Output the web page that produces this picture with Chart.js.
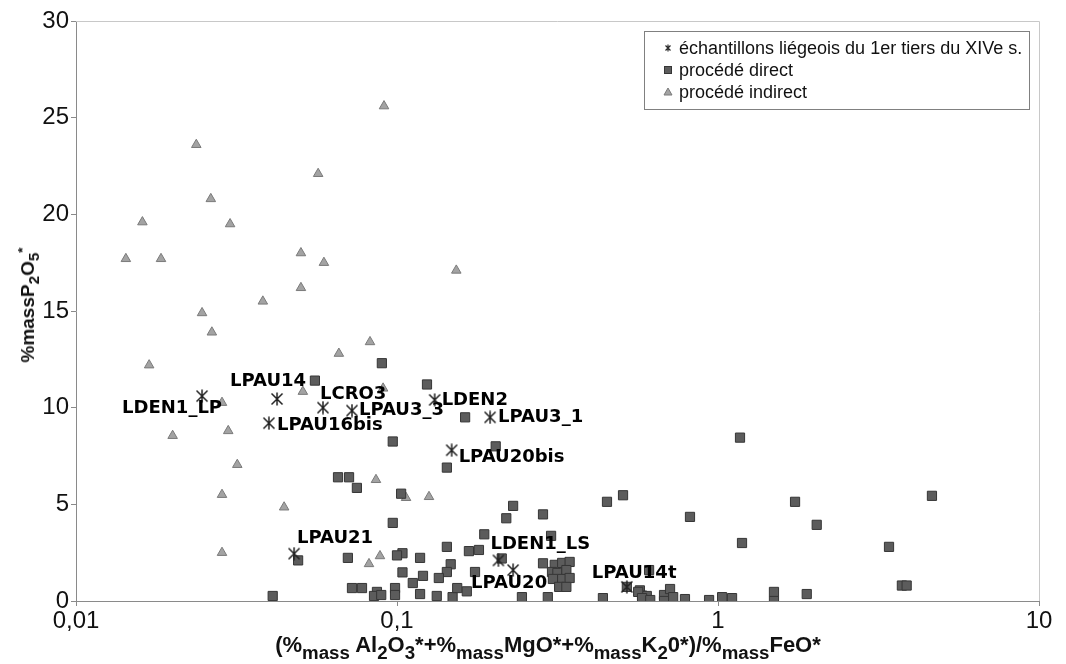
<!DOCTYPE html>
<html>
<head>
<meta charset="utf-8">
<script src="https://cdn.jsdelivr.net/npm/chart.js@4.4.1/dist/chart.umd.min.js"></script>
<style>
  body { margin: 0; background: #fff; }
  #wrap { position: relative; width: 1066px; height: 664px; }
  #chart { position: absolute; left: 0; top: 0; }
  .axTitle { position: absolute; font-family: "Liberation Sans", Arial, sans-serif; font-weight: bold; color: #111; white-space: nowrap; }
  .axTitle sub { font-size: 85%; vertical-align: -0.35em; line-height: 0; }
  .axTitle sup { font-size: 72%; vertical-align: 0.5em; line-height: 0; }
  #xTitle { left: 548px; top: 632px; font-size: 22px; transform: translateX(-50%); }
  #yTitle { left: 28px; top: 305px; font-size: 19px; transform: translate(-50%, -50%) rotate(-90deg); }
  #yTitle sub { font-size: 80%; }
</style>
</head>
<body>
<div id="wrap">
  <canvas id="chart" width="1066" height="664"></canvas>
  <div id="xTitle" class="axTitle">(%<sub>mass</sub> Al<sub>2</sub>O<sub>3</sub>*+%<sub>mass</sub>MgO*+%<sub>mass</sub>K<sub>2</sub>0*)/%<sub>mass</sub>FeO*</div>
  <div id="yTitle" class="axTitle">%massP<sub>2</sub>O<sub>5</sub><sup>*</sup></div>
</div>
<script>
// series names (legend)
const seriesNames = ["échantillons liégeois du 1er tiers du XIVe s.", "procédé direct", "procédé indirect"];

// échantillons liégeois (stars with labels)
const starNames = ["LDEN1_LP", "LPAU14", "LPAU16bis", "LCRO3", "LPAU3_3", "LDEN2", "LPAU3_1", "LPAU20bis", "LPAU21", "LDEN1_LS", "LPAU20", "LPAU14t"];
const starX = [0.0247, 0.0423, 0.0399, 0.0588, 0.0724, 0.131, 0.195, 0.148, 0.0478, 0.207, 0.23, 0.52];
const starY = [10.6, 10.45, 9.2, 10.0, 9.85, 10.4, 9.5, 7.8, 2.45, 2.1, 1.6, 0.73];

// procédé direct (squares)
const directX = [0.0897, 0.0555, 0.124, 0.163, 0.097, 0.203, 0.143, 0.0655, 0.0709, 0.075,
  0.103, 0.23, 0.219, 0.285, 0.451, 0.506, 0.097, 0.187, 0.302, 0.143,
  0.1675, 0.18, 0.104, 0.1, 0.118, 0.0703, 0.0492, 0.212, 0.147, 0.285,
  0.31, 0.327, 0.345, 0.304, 0.316, 0.337, 0.306, 0.327, 0.345, 0.32,
  0.337, 0.149, 0.165, 0.154, 0.245, 0.295, 0.438, 0.143, 0.175, 0.041,
  0.0724, 0.0778, 0.0866, 0.0848, 0.0893, 0.0986, 0.0986, 0.104, 0.112, 0.1205,
  0.118, 0.133, 0.135, 0.52, 0.571, 0.58, 0.6, 1.171, 1.738, 4.64,
  0.818, 2.03, 1.188, 3.41, 3.74, 3.87, 0.61, 0.564, 0.58, 0.615,
  0.679, 0.679, 0.709, 0.725, 0.789, 0.938, 1.03, 1.106, 1.494, 1.494, 1.89];
const directY = [12.3, 11.4, 11.2, 9.5, 8.25, 8.0, 6.9, 6.4, 6.4, 5.85,
  5.55, 4.92, 4.28, 4.48, 5.13, 5.47, 4.04, 3.45, 3.37, 2.8,
  2.58, 2.64, 2.47, 2.36, 2.23, 2.23, 2.1, 2.2, 1.9, 1.95,
  1.87, 1.97, 2.02, 1.5, 1.45, 1.6, 1.14, 1.14, 1.19, 0.73,
  0.73, 0.2, 0.5, 0.67, 0.2, 0.2, 0.15, 1.5, 1.5, 0.26,
  0.67, 0.67, 0.47, 0.26, 0.31, 0.67, 0.31, 1.48, 0.93, 1.3,
  0.36, 0.26, 1.19, 0.73, 0.55, 0.28, 0.26, 8.45, 5.13, 5.44,
  4.35, 3.94, 3.0, 2.8, 0.8, 0.8, 1.6, 0.47, 0.15, 0.05,
  0.31, 0.0, 0.62, 0.2, 0.1, 0.05, 0.2, 0.15, 0.47, 0.0, 0.36];

// procédé indirect (triangles)
const indirectX = [0.0911, 0.0237, 0.0568, 0.0263, 0.0161, 0.0302, 0.0143, 0.0184, 0.0502, 0.0592,
  0.0502, 0.0382, 0.0247, 0.0265, 0.0824, 0.0659, 0.0169, 0.153, 0.0285, 0.020,
  0.0298, 0.0509, 0.0905, 0.0318, 0.0285, 0.0285, 0.0445, 0.086, 0.1258, 0.1067,
  0.0818, 0.0885];
const indirectY = [25.6, 23.6, 22.1, 20.8, 19.6, 19.5, 17.7, 17.7, 18.0, 17.5,
  16.2, 15.5, 14.9, 13.9, 13.4, 12.8, 12.2, 17.1, 10.26, 8.55,
  8.8, 10.83, 11.0, 7.05, 5.5, 2.5, 4.85, 6.27, 5.39, 5.34,
  1.92, 2.33];

// axis ticks
const xTickValues = [0.01, 0.1, 1, 10];
const xTickLabels = ["0,01", "0,1", "1", "10"];
const yTickValues = [0, 5, 10, 15, 20, 25, 30];

// label placement next to each star: [dx, dy, align]
const labelOffsets = [[20, 12, "right"], [-47, -18, "left"], [8, 2, "left"], [-3, -13, "left"],
  [7, 0, "left"], [7, 0, "left"], [8, 0, "left"], [7, 7, "left"], [3, -15, "left"],
  [-8, -16, "left"], [-42, 13, "left"], [-35, -14, "left"]];

const toPoints = (xs, ys) => xs.map((x, i) => ({ x: x, y: ys[i] }));

// asterisk marker (X + vertical bar)
function makeStar(size, lw, color) {
  const c = document.createElement("canvas");
  c.width = size; c.height = size;
  const g = c.getContext("2d");
  g.strokeStyle = color; g.lineWidth = lw;
  const m = 1.5, s = size - 1.5;
  g.beginPath();
  g.moveTo(m, m); g.lineTo(s, s);
  g.moveTo(s, m); g.lineTo(m, s);
  g.moveTo(size / 2, 0.5); g.lineTo(size / 2, size - 0.5);
  g.stroke();
  return c;
}
const starIcon = makeStar(14, 1.5, "#222");
const starIconSmall = makeStar(8, 1.2, "#2a2a2a");

const squareFill = "#5c5c5c", squareBorder = "#363636";
const triFill = "#a3a3a3", triBorder = "#7a7a7a";

// frame on top / right
const framePlugin = {
  id: "frame",
  beforeDatasetsDraw(chart) {
    const a = chart.chartArea, ctx = chart.ctx;
    ctx.save();
    ctx.strokeStyle = "#c8c8c8";
    ctx.lineWidth = 1;
    ctx.beginPath();
    ctx.moveTo(a.left, a.top + 0.5); ctx.lineTo(a.right + 0.5, a.top + 0.5);
    ctx.lineTo(a.right + 0.5, a.bottom);
    ctx.stroke();
    ctx.restore();
  }
};

// sample names next to stars
const labelPlugin = {
  id: "starLabels",
  afterDatasetsDraw(chart) {
    const ctx = chart.ctx;
    const meta = chart.getDatasetMeta(0);
    ctx.save();
    ctx.font = 'bold 18px "DejaVu Sans", sans-serif';
    ctx.fillStyle = "#000";
    ctx.textBaseline = "middle";
    meta.data.forEach((pt, i) => {
      const o = labelOffsets[i];
      ctx.textAlign = o[2];
      ctx.fillText(starNames[i], pt.x + o[0], pt.y + o[1]);
    });
    ctx.restore();
  }
};

// boxed legend, top right
const legendPlugin = {
  id: "boxLegend",
  afterDraw(chart) {
    const ctx = chart.ctx;
    ctx.save();
    ctx.fillStyle = "#fff";
    ctx.fillRect(644, 31, 385, 78);
    ctx.strokeStyle = "#808080";
    ctx.lineWidth = 1;
    ctx.strokeRect(644.5, 31.5, 385, 78);
    ctx.font = '18px "Liberation Sans", Arial, sans-serif';
    ctx.textBaseline = "middle";
    ctx.textAlign = "left";
    const rows = [48, 70, 92];
    rows.forEach((y, i) => {
      const mx = 668;
      if (i === 0) {
        ctx.drawImage(starIconSmall, mx - 4, y - 4);
      } else if (i === 1) {
        ctx.fillStyle = squareFill;
        ctx.fillRect(mx - 3.5, y - 3.5, 7, 7);
        ctx.strokeStyle = squareBorder;
        ctx.strokeRect(mx - 3.5, y - 3.5, 7, 7);
      } else {
        ctx.fillStyle = triFill;
        ctx.strokeStyle = triBorder;
        ctx.beginPath();
        ctx.moveTo(mx, y - 4); ctx.lineTo(mx + 4, y + 3); ctx.lineTo(mx - 4, y + 3); ctx.closePath();
        ctx.fill(); ctx.stroke();
      }
      ctx.fillStyle = "#111";
      ctx.fillText(seriesNames[i], 679, y + 1);
    });
    ctx.restore();
  }
};

new Chart(document.getElementById("chart"), {
  type: "scatter",
  data: {
    datasets: [
      {
        label: seriesNames[0],
        data: toPoints(starX, starY),
        pointStyle: starIcon,
        pointRadius: 7
      },
      {
        label: seriesNames[1],
        data: toPoints(directX, directY),
        pointStyle: "rect",
        pointRadius: 6.5,
        backgroundColor: squareFill,
        borderColor: squareBorder,
        borderWidth: 1
      },
      {
        label: seriesNames[2],
        data: toPoints(indirectX, indirectY),
        pointStyle: "triangle",
        pointRadius: 5.5,
        backgroundColor: triFill,
        borderColor: triBorder,
        borderWidth: 1
      }
    ]
  },
  options: {
    responsive: false,
    animation: false,
    events: [],
    layout: { padding: { left: 0, top: 21, right: 27, bottom: 0 } },
    plugins: {
      legend: { display: false },
      tooltip: { enabled: false }
    },
    scales: {
      x: {
        type: "logarithmic",
        min: 0.01,
        max: 10,
        afterBuildTicks: (s) => { s.ticks = xTickValues.map(v => ({ value: v })); },
        afterFit: (s) => { s.height = 63; },
        ticks: {
          autoSkip: false,
          maxRotation: 0,
          padding: 1,
          color: "#111",
          font: { family: '"Liberation Sans", Arial, sans-serif', size: 24 },
          callback: (v) => xTickLabels[xTickValues.indexOf(v)]
        },
        grid: { drawOnChartArea: false, drawTicks: true, tickLength: 5, color: "#8a8a8a" },
        border: { display: true, color: "#8a8a8a", width: 1 }
      },
      y: {
        min: 0,
        max: 30,
        afterBuildTicks: (s) => { s.ticks = yTickValues.map(v => ({ value: v })); },
        afterFit: (s) => { s.width = 76; },
        ticks: {
          padding: 2,
          color: "#111",
          font: { family: '"Liberation Sans", Arial, sans-serif', size: 24 }
        },
        grid: { drawOnChartArea: false, drawTicks: true, tickLength: 5, color: "#8a8a8a" },
        border: { display: true, color: "#8a8a8a", width: 1 }
      }
    }
  },
  plugins: [framePlugin, labelPlugin, legendPlugin]
});
</script>
</body>
</html>
